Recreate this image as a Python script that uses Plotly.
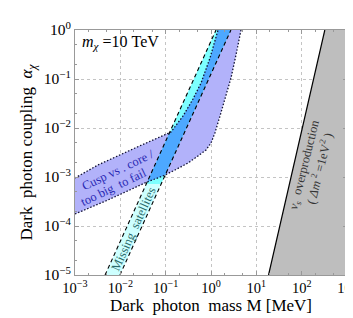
import plotly.graph_objects as go
import numpy as np

# ---------------- data ----------------
# Cusp vs core / too big to fail band (purple), upper-left boundary
cusp_upper_M = [1e-3, 3.21e-3, 0.0211, 0.131, 0.242, 0.401, 0.603, 0.951, 1.43]
cusp_upper_a = [9.55e-4, 1.76e-3, 3.91e-3, 8.28e-3, 0.0176, 0.0391, 0.0828, 0.269, 1.0]
# lower-right boundary
cusp_lower_M = [1e-3, 5.35e-3, 0.0387, 0.0873, 0.161, 0.311, 0.516, 0.776, 1.0,
                1.22, 1.58, 2.04, 2.76, 3.56, 4.59]
cusp_lower_a = [1.76e-4, 3.40e-4, 7.91e-4, 1.05e-3, 1.39e-3, 1.93e-3, 2.69e-3, 3.56e-3,
                4.94e-3, 7.91e-3, 0.0176, 0.0409, 0.105, 0.309, 1.0]

# Missing satellites band (cyan), straight edges
sat_left_M = [4.6e-3, 1.29]
sat_left_a = [1e-5, 1.0]
sat_right_M = [9.8e-3, 2.75]
sat_right_a = [1e-5, 1.0]
sat_shade_cut_a = 7.2e-4   # below this the band is drawn pale

# nu_s overproduction (grey), excluded to the right of the line
nus_M = [18.6, 324.0]
nus_a = [1e-5, 1.0]

x_tickvals = [1e-3, 1e-2, 1e-1, 1e0, 1e1, 1e2, 1e3]
x_ticktext = ["10<sup>−3</sup>", "10<sup>−2</sup>", "10<sup>−1</sup>", "10<sup>0</sup>",
              "10<sup>1</sup>", "10<sup>2</sup>", "10<sup>3</sup>"]
y_tickvals = [1e-5, 1e-4, 1e-3, 1e-2, 1e-1, 1e0]
y_ticktext = ["10<sup>−5</sup>", "10<sup>−4</sup>", "10<sup>−3</sup>", "10<sup>−2</sup>",
              "10<sup>−1</sup>", "10<sup>0</sup>"]

# ---------------- geometry helpers (log space) ----------------
def to_log(M, a):
    return [(np.log10(m), np.log10(v)) for m, v in zip(M, a)]

def clip(subject, clipper):
    """Sutherland-Hodgman: clip polygon by convex CCW polygon."""
    def inside(p, a, b):
        return (b[0]-a[0])*(p[1]-a[1]) - (b[1]-a[1])*(p[0]-a[0]) >= 0
    def inter(p, q, a, b):
        x1, y1 = p; x2, y2 = q; x3, y3 = a; x4, y4 = b
        d = (x1-x2)*(y3-y4) - (y1-y2)*(x3-x4)
        t = ((x1-x3)*(y3-y4) - (y1-y3)*(x3-x4)) / d
        return (x1 + t*(x2-x1), y1 + t*(y2-y1))
    out = list(subject)
    for i in range(len(clipper)):
        a, b = clipper[i], clipper[(i+1) % len(clipper)]
        inp, out = out, []
        if not inp:
            break
        s = inp[-1]
        for e in inp:
            if inside(e, a, b):
                if not inside(s, a, b):
                    out.append(inter(s, e, a, b))
                out.append(e)
            elif inside(s, a, b):
                out.append(inter(s, e, a, b))
            s = e
    return out

def unlog(poly):
    xs = [10**p[0] for p in poly] + [10**poly[0][0]]
    ys = [10**p[1] for p in poly] + [10**poly[0][1]]
    return xs, ys

up = to_log(cusp_upper_M, cusp_upper_a)
lo = to_log(cusp_lower_M, cusp_lower_a)
cusp_poly = up + lo[::-1]

sl = to_log(sat_left_M, sat_left_a)
sr = to_log(sat_right_M, sat_right_a)
band_poly = [sl[0], sr[0], sr[1], sl[1]]  # CCW

cut = np.log10(sat_shade_cut_a)
above = [(-10, cut), (10, cut), (10, 10), (-10, 10)]
below = [(-10, -20), (10, -20), (10, cut), (-10, cut)]

band_hi = clip(band_poly, above)
band_lo = clip(band_poly, below)
overlap = clip(cusp_poly, band_poly)

PURPLE = "rgb(178,178,250)"
CYAN = "rgb(125,255,255)"
PALE = "rgb(205,255,255)"
BLUE = "rgb(77,168,255)"
GREY = "rgb(190,190,190)"

fig = go.Figure()

def add_fill(poly, color):
    xs, ys = unlog(poly)
    fig.add_trace(go.Scatter(x=xs, y=ys, mode="lines", fill="toself", fillcolor=color,
                             line=dict(width=0), hoverinfo="skip", showlegend=False))

# grey region
fig.add_trace(go.Scatter(x=[nus_M[0], nus_M[1], 1e3, 1e3, nus_M[0]],
                         y=[nus_a[0], nus_a[1], 1.0, 1e-5, nus_a[0]],
                         mode="lines", fill="toself", fillcolor=GREY,
                         line=dict(width=0), hoverinfo="skip", showlegend=False))
fig.add_trace(go.Scatter(x=nus_M, y=nus_a, mode="lines",
                         line=dict(color="black", width=1.2), showlegend=False))

add_fill(cusp_poly, PURPLE)
add_fill(band_lo, PALE)
add_fill(band_hi, CYAN)
add_fill(overlap, BLUE)

# boundaries
DOT = "1.5px,1.8px"
DASH = "4px,3px"
fig.add_trace(go.Scatter(x=cusp_upper_M, y=cusp_upper_a, mode="lines",
                         line=dict(color="#111133", width=1.3, dash=DOT), showlegend=False))
fig.add_trace(go.Scatter(x=cusp_lower_M, y=cusp_lower_a, mode="lines",
                         line=dict(color="#111133", width=1.3, dash=DOT), showlegend=False))
fig.add_trace(go.Scatter(x=sat_left_M, y=sat_left_a, mode="lines",
                         line=dict(color="black", width=1.1, dash=DASH), showlegend=False))
fig.add_trace(go.Scatter(x=sat_right_M, y=sat_right_a, mode="lines",
                         line=dict(color="black", width=1.1, dash=DASH), showlegend=False))

SERIF = "Liberation Serif, Times New Roman, serif"
NB = "\u00a0"

anns = [
    dict(x=-2.89, y=-0.265, text="<i>m</i><sub><i>χ</i></sub> =10 TeV", xanchor="left",
         font=dict(size=16, color="black"), textangle=0),
    dict(x=-2.05, y=-2.857, text="Cusp vs . core /", font=dict(size=12.5, color="#2a2ab4"),
         textangle=-25.6),
    dict(x=-2.14, y=-3.204, text="too big" + NB + " to fail", font=dict(size=12.5, color="#2a2ab4"),
         textangle=-25.6),
    dict(x=-1.70, y=-4.07, text="Missing" + NB + " satellites", font=dict(size=12.5, color="#2a6a6a"),
         textangle=-65.6),
    dict(x=2.085, y=-2.765, text="<i>ν<sub>s</sub></i>" + NB + " overproduction",
         font=dict(size=12.5, color="#333333"), textangle=-76),
    dict(x=2.378, y=-2.816, text="( <i>Δm</i><sup> 2</sup> =1eV<sup>2</sup> )",
         font=dict(size=12.5, color="#333333"), textangle=-76),
]
for a in anns:
    a.update(xref="x", yref="y", showarrow=False, yanchor="middle")
    a["font"]["family"] = SERIF
    fig.add_annotation(**a)

axis_common = dict(
    automargin=False,
    showline=True, linecolor="#999999", linewidth=1, mirror="allticks",
    ticks="inside", ticklen=4, tickcolor="#999999",
    showgrid=True, gridcolor="#c4c4c4", griddash="dot", gridwidth=1,
    zeroline=False,
    minor=dict(ticks="inside", ticklen=2, tickcolor="#999999", showgrid=False),
)

fig.update_xaxes(type="log", range=[-3, 3], tickmode="array",
                 tickvals=x_tickvals, ticktext=x_ticktext,
                 tickfont=dict(family=SERIF, size=14.5, color="black"),
                 title=dict(text="Dark" + NB + " photon" + NB + " mass M [MeV]", standoff=0,
                            font=dict(family=SERIF, size=17, color="black")),
                 **axis_common)
fig.update_yaxes(type="log", range=[-5, 0], tickmode="array",
                 tickvals=y_tickvals, ticktext=y_ticktext,
                 tickfont=dict(family=SERIF, size=15.5, color="black"),
                 title=dict(text="Dark" + NB + " photon coupling" + NB + " <i>α</i><sub><i>χ</i></sub>",
                            standoff=6,
                            font=dict(family=SERIF, size=17, color="black")),
                 **axis_common)

fig.update_layout(width=353, height=318,
                  margin=dict(l=67, r=14, t=22, b=51, autoexpand=False),
                  paper_bgcolor="white", plot_bgcolor="white",
                  showlegend=False)

fig.write_html("out.html")
